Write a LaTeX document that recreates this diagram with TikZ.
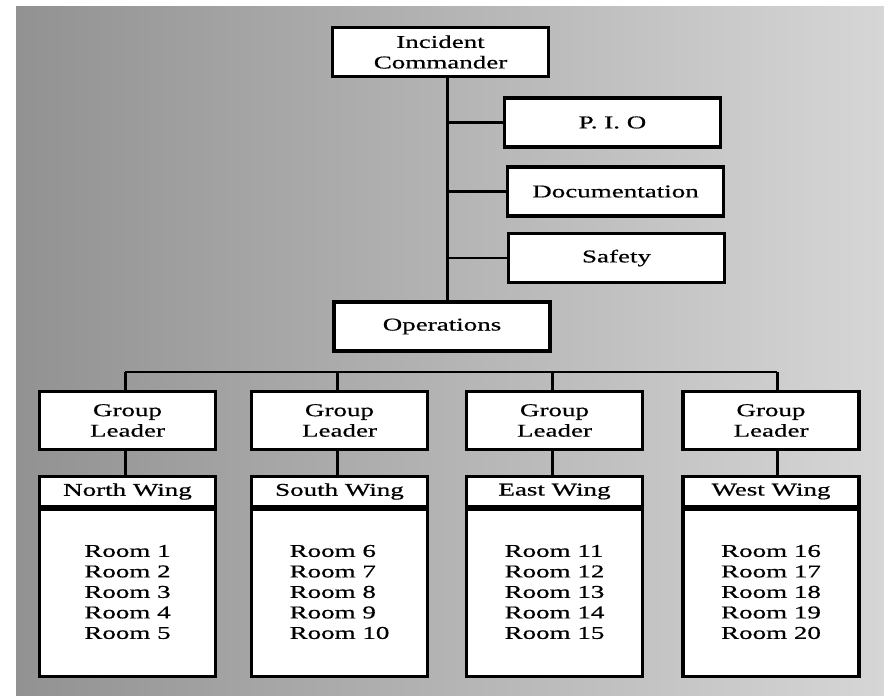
\documentclass[tikz,border=0pt]{standalone}
\usepackage{fontspec}
\setmainfont{Liberation Serif}[FakeStretch=1.5,FakeBold=0.6]
\definecolor{bgL}{RGB}{146,146,146}
\definecolor{bgM}{RGB}{180,180,180}
\definecolor{bgR}{RGB}{214,214,214}
\begin{document}
\begin{tikzpicture}[x=1pt,y=-1pt,
  box/.style={draw=black, line width=3.2pt, fill=white, inner sep=0pt, align=center,
              font=\fontsize{18}{20.5}\selectfont},
  topbox/.style={box, minimum width=216pt, minimum height=49pt},
  glbox/.style={box, minimum width=176pt, minimum height=58pt},
  wingbox/.style={box, minimum width=176pt, minimum height=30pt},
  roombox/.style={box, minimum width=176pt, minimum height=169pt, align=left},
  conn/.style={line width=3pt},
  thinconn/.style={line width=2.3pt}]
\useasboundingbox (0,0) rectangle (884,696);
\shade[left color=bgL, middle color=bgM, right color=bgR] (16,6) rectangle (884,696);

% top part
\node[topbox] (ic)  at (440.5,52)    {Incident\\Commander};
\node[topbox] (pio) at (612.5,122.5) {P. I. O};
\node[topbox] (doc) at (615.5,191.5) {Documentation};
\node[topbox] (saf) at (616.5,258)   {Safety};
\node[topbox] (ops) at (442,326.5)   {Operations};

\coordinate (t) at (447,0);
\draw[conn] (ic.south -| t) -- (ops.north -| t);
\draw[thinconn] (pio.west) -- (pio.west -| t);
\draw[thinconn] (doc.west) -- (doc.west -| t);
\draw[thinconn] (saf.west) -- (saf.west -| t);

% bus
\coordinate (b1) at (125,372);
\coordinate (b2) at (337,372);
\coordinate (b3) at (552,372);
\coordinate (b4) at (777,372);
\draw[thinconn] (b1) -- (b4);

% groups
\node[glbox] (gl1) at (127.5,420.5) {Group\\Leader};
\node[glbox] (gl2) at (339.5,420.5) {Group\\Leader};
\node[glbox] (gl3) at (554.5,420.5) {Group\\Leader};
\node[glbox] (gl4) at (771,420.5)   {Group\\Leader};

\node[wingbox] (wh1) at (127.5,491.5) {North Wing};
\node[wingbox] (wh2) at (339.5,491.5) {South Wing};
\node[wingbox] (wh3) at (554.5,491.5) {East Wing};
\node[wingbox] (wh4) at (771,491.5)   {West Wing};

\node[roombox] (r1) at (127.5,592) {Room 1\\Room 2\\Room 3\\Room 4\\Room 5};
\node[roombox] (r2) at (339.5,592) {Room 6\\Room 7\\Room 8\\Room 9\\Room 10};
\node[roombox] (r3) at (554.5,592) {Room 11\\Room 12\\Room 13\\Room 14\\Room 15};
\node[roombox] (r4) at (771,592)   {Room 16\\Room 17\\Room 18\\Room 19\\Room 20};

\foreach \i in {1,2,3,4}{
  \draw[conn] (b\i) -- (b\i |- gl\i.north);
  \draw[conn] (gl\i.south -| b\i) -- (b\i |- wh\i.north);
  \draw[line width=5pt] (wh\i.south west) -- (wh\i.south east);
}
\end{tikzpicture}
\end{document}
